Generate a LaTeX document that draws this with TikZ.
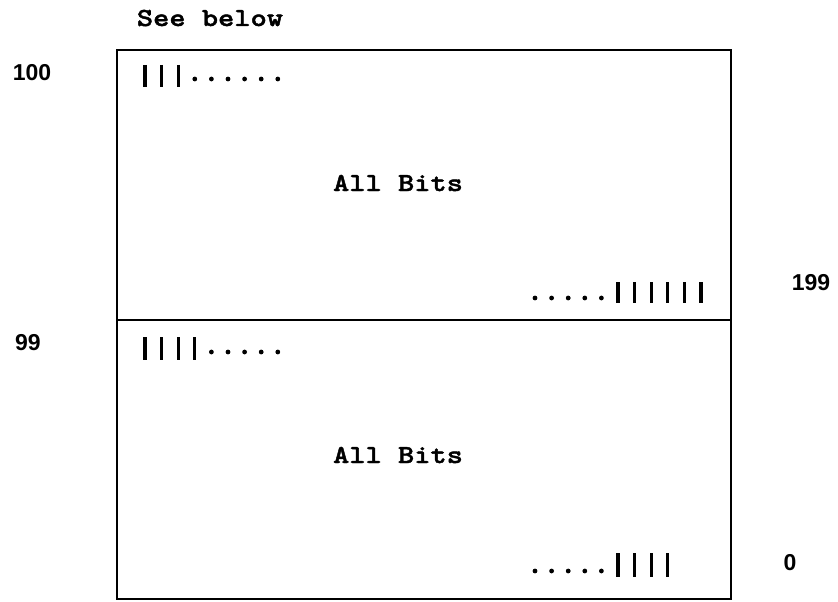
\documentclass[tikz,border=0pt]{standalone}
\usepackage{fontspec}
\newfontfamily\numfont{Liberation Sans}
\newfontfamily\twfont{lmmonolt10-bold.otf}[FakeBold=1.6, FakeStretch=1.19]
\newcommand{\twtext}[1]{{\twfont\fontsize{26}{26}\selectfont #1}}
\begin{document}
\begin{tikzpicture}[x=1pt,y=-1pt,
  frame/.style={line width=2.2pt},
  bitbar/.style={line width=3.2pt},
  tw/.style={inner sep=0pt, anchor=base},
  num/.style={inner sep=0pt, anchor=base, font=\numfont\bfseries\fontsize{23}{23}\selectfont}]
\useasboundingbox (0,0) rectangle (838,602);
% frame
\draw[frame] (117,50) rectangle (731,599);
\draw[frame] (117,320) -- (731,320);
% texts
\node[tw] (see) at (210,26) {\twtext{See below}};
\node[tw] (all1) at (398,191) {\twtext{All Bits}};
\node[tw] (all2) at (398,463) {\twtext{All Bits}};
\node[num] (n100) at (32,81) {100};
\node[num] (n99) at (28,350) {99};
\node[num] (n199) at (811,290) {199};
\node[num] (n0) at (790,570) {0};
% row 1 top-left: 3 bars, 6 dots
\foreach \k in {0,...,2} \draw[bitbar] ({145+16.6*\k},65) -- ++(0,22);
\foreach \k in {3,...,8} \fill ({145+16.6*\k},79) circle (2.4);
% row 1 bottom-right: 5 dots, 6 bars
\foreach \k in {0,...,4} \fill ({535+16.6*\k},298) circle (2.4);
\foreach \k in {5,...,10} \draw[bitbar] ({535+16.6*\k},282) -- ++(0,21);
% row 2 top-left: 4 bars, 5 dots
\foreach \k in {0,...,3} \draw[bitbar] ({145+16.6*\k},337) -- ++(0,23);
\foreach \k in {4,...,8} \fill ({145+16.6*\k},352) circle (2.4);
% row 2 bottom-right: 5 dots, 4 bars
\foreach \k in {0,...,4} \fill ({535+16.6*\k},571) circle (2.4);
\foreach \k in {5,...,8} \draw[bitbar] ({535+16.6*\k},553) -- ++(0,24);
\end{tikzpicture}
\end{document}
